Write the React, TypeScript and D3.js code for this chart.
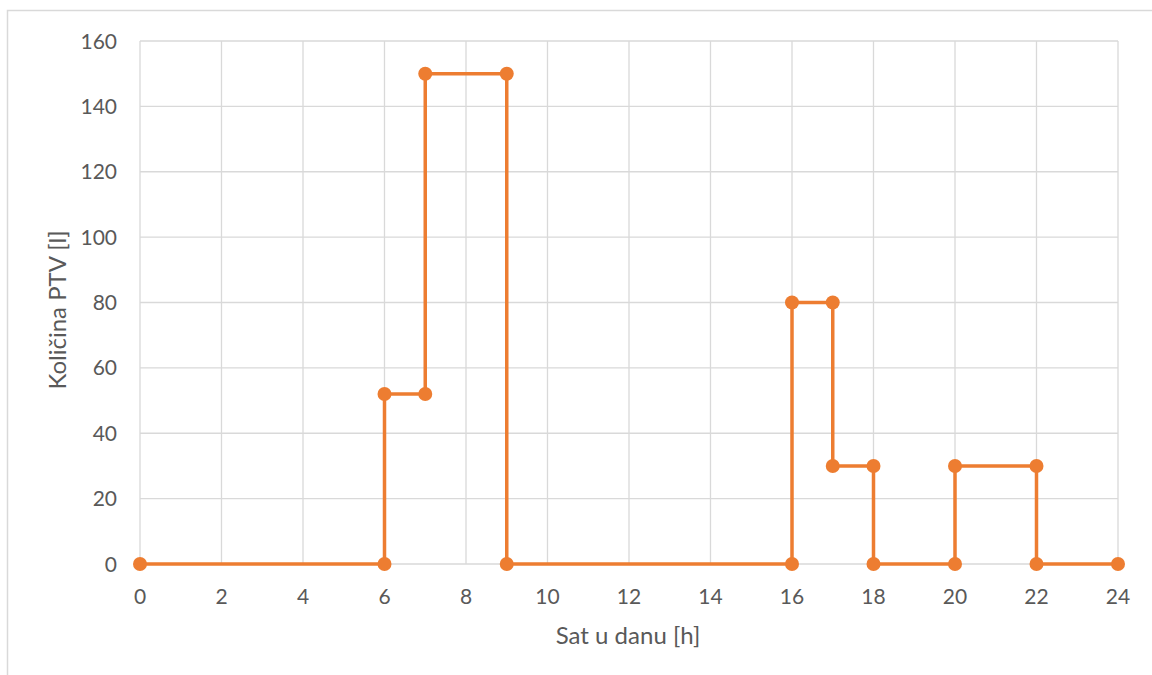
import React from "react";
import * as d3 from "d3";

const hours = [0, 6, 6, 7, 7, 9, 9, 16, 16, 17, 17, 18, 18, 20, 20, 22, 22, 24];
const volumes = [0, 0, 52, 52, 150, 150, 0, 0, 80, 80, 30, 30, 0, 0, 30, 30, 0, 0];
const xTicks = [0, 2, 4, 6, 8, 10, 12, 14, 16, 18, 20, 22, 24];
const yTicks = [0, 20, 40, 60, 80, 100, 120, 140, 160];

const W = 1152, H = 675;
const left = 140, right = 1118, top = 41, bottom = 564;
const font = "Lato, 'Open Sans', sans-serif";

export default function App() {
  const x = d3.scaleLinear().domain([0, 24]).range([left, right]);
  const y = d3.scaleLinear().domain([0, 160]).range([bottom, top]);
  const pts = hours.map((h, i) => [h, volumes[i]] as [number, number]);
  const line = d3.line<[number, number]>().x(d => x(d[0])).y(d => y(d[1]));
  return (
    <svg width={W} height={H} style={{ position: "absolute", left: 0, top: 0, background: "#fff" }}>
      <rect x={7.5} y={10.5} width={1200} height={700} fill="#fff" stroke="#d9d9d9" strokeWidth={1.5} />
      {xTicks.map(t => (
        <line key={"gx" + t} x1={x(t)} x2={x(t)} y1={top} y2={bottom} stroke="#d9d9d9" strokeWidth={1.3} />
      ))}
      {yTicks.map(t => (
        <line key={"gy" + t} x1={left} x2={right} y1={y(t)} y2={y(t)} stroke="#d9d9d9" strokeWidth={1.3} />
      ))}
      {yTicks.map(t => (
        <text key={"ty" + t} x={117} y={y(t)} dy="0.36em" textAnchor="end" fontFamily={font} fontSize={21} fill="#595959">{t}</text>
      ))}
      {xTicks.map(t => (
        <text key={"tx" + t} x={x(t)} y={596} dy="0.36em" textAnchor="middle" fontFamily={font} fontSize={21} fill="#595959">{t}</text>
      ))}
      <path d={line(pts) || ""} fill="none" stroke="#ED7D31" strokeWidth={3.5} strokeLinejoin="round" />
      {pts.map((p, i) => (
        <circle key={"p" + i} cx={x(p[0])} cy={y(p[1])} r={7} fill="#ED7D31" />
      ))}
      <text x={628} y={635} dy="0.36em" textAnchor="middle" fontFamily={font} fontSize={24} fill="#595959">Sat u danu [h]</text>
      <text transform={`translate(57,310) rotate(-90)`} dy="0.36em" textAnchor="middle" fontFamily={font} fontSize={24} fill="#595959">Količina PTV [l]</text>
    </svg>
  );
}
